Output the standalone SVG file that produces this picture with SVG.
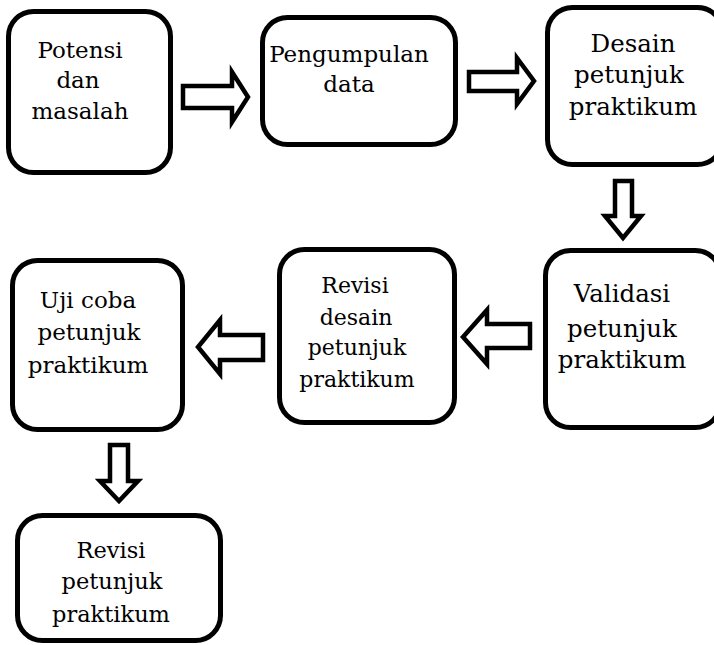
<svg xmlns="http://www.w3.org/2000/svg" width="714" height="645" viewBox="0 0 714 645">
<style>
.box{fill:#fff;stroke:#000;stroke-width:5}
.arr{fill:#fff;stroke:#000;stroke-width:4.5;stroke-linejoin:miter}
text{font-family:"DejaVu Serif","Liberation Serif",serif;fill:#000;text-anchor:middle}
</style>
<rect width="714" height="645" fill="#fff"/>
<g id="connectors">
<polygon class="arr" points="183,86 232,86 232,72 248,97 232,122 232,108 183,108"/>
<polygon class="arr" points="469,72 517,72 517,58 534,81 517,104 517,91 469,91"/>
<polygon class="arr" points="615,181 632,181 632,216 641,216 623,238 605,216 615,216"/>
<polygon class="arr" points="530,324 487,324 487,310 463,337 487,364 487,348 530,348"/>
<polygon class="arr" points="263,335 220,335 220,320 198,347 220,374 220,360 263,360"/>
<polygon class="arr" points="110,445 128,445 128,481 138,481 119,501 100,481 110,481"/>
</g>
<g id="n1">
<rect class="box" x="8.5" y="11.5" width="162" height="161" rx="25"/>
<text font-size="23"><tspan x="80" y="58">Potensi</tspan><tspan x="78" y="88">dan</tspan><tspan x="80" y="119">masalah</tspan></text>
</g>
<g id="n2">
<rect class="box" x="262.5" y="17.5" width="193" height="127" rx="25"/>
<text font-size="23"><tspan x="349" y="62">Pengumpulan</tspan><tspan x="349" y="92">data</tspan></text>
</g>
<g id="n3">
<rect class="box" x="547.5" y="7.5" width="175" height="157" rx="25"/>
<text font-size="24.5"><tspan x="633" y="52">Desain</tspan><tspan x="629" y="83">petunjuk</tspan><tspan x="633" y="115">praktikum</tspan></text>
</g>
<g id="n4">
<rect class="box" x="12.5" y="260.5" width="170" height="169" rx="25"/>
<text font-size="23"><tspan x="88" y="308">Uji coba</tspan><tspan x="89" y="340">petunjuk</tspan><tspan x="88" y="373">praktikum</tspan></text>
</g>
<g id="n5">
<rect class="box" x="279.5" y="249.5" width="175" height="173" rx="25"/>
<text font-size="22"><tspan x="355" y="293">Revisi</tspan><tspan x="356" y="325">desain</tspan><tspan x="357" y="355">petunjuk</tspan><tspan x="357" y="387">praktikum</tspan></text>
</g>
<g id="n6">
<rect class="box" x="545.5" y="250.5" width="175" height="177" rx="25"/>
<text font-size="24.5"><tspan x="622" y="302">Validasi</tspan><tspan x="622" y="337">petunjuk</tspan><tspan x="622" y="368">praktikum</tspan></text>
</g>
<g id="n7">
<rect class="box" x="17.5" y="515.5" width="203" height="125" rx="25"/>
<text font-size="22.5"><tspan x="111" y="558">Revisi</tspan><tspan x="112" y="589">petunjuk</tspan><tspan x="111" y="622">praktikum</tspan></text>
</g>
</svg>
